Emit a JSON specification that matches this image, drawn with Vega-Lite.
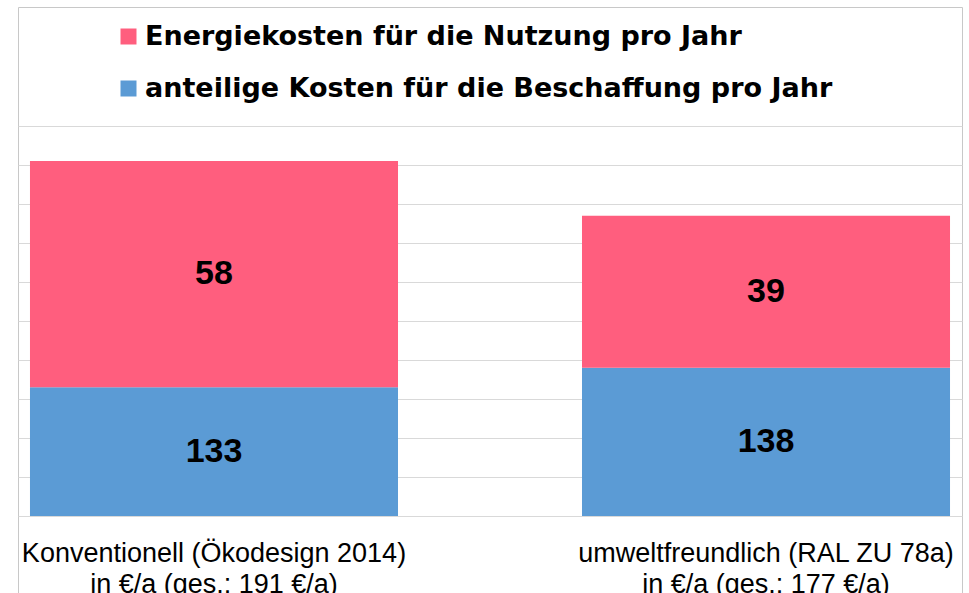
{
  "$schema": "https://vega.github.io/schema/vega-lite/v6.json",
  "width": 944,
  "height": 586,
  "autosize": {"type": "none"},
  "padding": {"left": 18, "top": 7, "right": 7, "bottom": 0},
  "background": "white",
  "config": {"view": {"stroke": "#C8C8C8", "strokeWidth": 1}},
  "data": {
    "values": [
      {"cat": "Konventionell (Ökodesign 2014)|in €/a (ges.: 191 €/a)", "series": "anteilige Kosten für die Beschaffung pro Jahr", "value": 133},
      {"cat": "Konventionell (Ökodesign 2014)|in €/a (ges.: 191 €/a)", "series": "Energiekosten für die Nutzung pro Jahr", "value": 58},
      {"cat": "umweltfreundlich (RAL ZU 78a)|in €/a (ges.: 177 €/a)", "series": "anteilige Kosten für die Beschaffung pro Jahr", "value": 138},
      {"cat": "umweltfreundlich (RAL ZU 78a)|in €/a (ges.: 177 €/a)", "series": "Energiekosten für die Nutzung pro Jahr", "value": 39}
    ]
  },
  "transform": [
    {"stack": "value", "groupby": ["cat"], "sort": [{"field": "series", "order": "descending"}], "as": ["v0", "v1"]},
    {"calculate": "max(datum.v0, 100)", "as": "lo"},
    {"calculate": "(datum.lo + datum.v1) / 2", "as": "mid"}
  ],
  "encoding": {
    "x": {
      "field": "cat",
      "type": "nominal",
      "sort": null,
      "scale": {"paddingInner": 0.3333, "paddingOuter": 0.0217},
      "axis": {
        "title": null,
        "domain": false,
        "ticks": false,
        "tickSize": 0,
        "labelAngle": 0,
        "labelFont": "Liberation Sans",
        "labelFontSize": 27,
        "labelColor": "#000000",
        "labelPadding": 24,
        "labelLineHeight": 31,
        "labelLimit": 0,
        "labelExpr": "split(datum.label, '|')",
        "offset": -77
      }
    }
  },
  "layer": [
    {
      "mark": {"type": "bar"},
      "encoding": {
        "y": {
          "field": "v1",
          "type": "quantitative",
          "scale": {"domain": [80.26, 230.51], "nice": false, "zero": false},
          "axis": {
            "title": null,
            "values": [100, 110, 120, 130, 140, 150, 160, 170, 180, 190, 200],
            "grid": true,
            "gridColor": "#D9D9D9",
            "gridWidth": 1,
            "labels": false,
            "ticks": false,
            "domain": false
          }
        },
        "y2": {"field": "lo"},
        "color": {
          "field": "series",
          "type": "nominal",
          "scale": {
            "domain": ["Energiekosten für die Nutzung pro Jahr", "anteilige Kosten für die Beschaffung pro Jahr"],
            "range": ["#FF5E7E", "#5B9BD5"]
          },
          "legend": {
            "orient": "none",
            "direction": "vertical",
            "legendX": 97,
            "legendY": 16,
            "title": null,
            "padding": 0,
            "symbolType": "square",
            "symbolSize": 256,
            "symbolStrokeWidth": 0,
            "symbolOpacity": 1,
            "labelFont": "DejaVu Sans",
            "labelFontWeight": "bold",
            "labelFontSize": 27,
            "labelColor": "#000000",
            "labelLimit": 0,
            "labelOffset": 3,
            "rowPadding": 24
          }
        }
      }
    },
    {
      "mark": {"type": "text", "font": "Liberation Sans", "fontWeight": "bold", "fontSize": 34, "color": "#000000", "align": "center", "baseline": "middle"},
      "encoding": {
        "y": {"field": "mid", "type": "quantitative"},
        "text": {"field": "value", "type": "quantitative"}
      }
    }
  ]
}
